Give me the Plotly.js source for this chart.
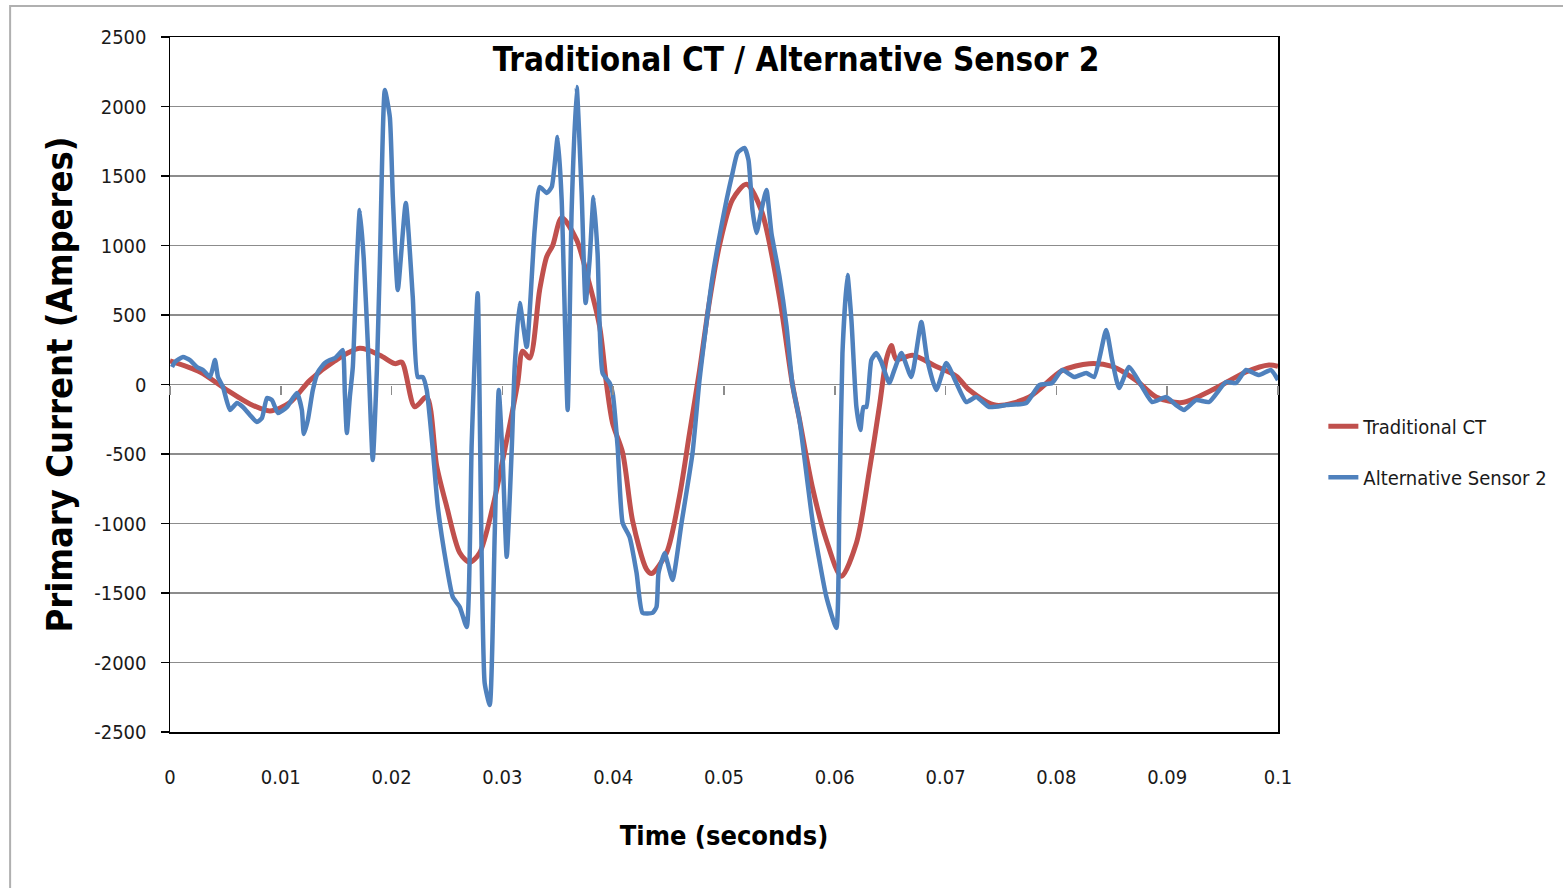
<!DOCTYPE html>
<html>
<head>
<meta charset="utf-8">
<script src="https://cdn.plot.ly/plotly-3.0.1.min.js"></script>
<style>
  html, body { margin: 0; padding: 0; background: #fff; }
  #chart { width: 1563px; height: 888px; }
</style>
</head>
<body>
<div id="chart"></div>
<script>
// Time (seconds) and primary current (Amperes)
const ctTime = [0, 0.00271, 0.00514, 0.00721, 0.00902, 0.01082, 0.01262, 0.01488, 0.01713, 0.01894,
  0.02029, 0.02092, 0.02209, 0.02317, 0.02408, 0.02498, 0.02615, 0.02705, 0.02795, 0.02913,
  0.03039, 0.03138, 0.03183, 0.03246, 0.03336, 0.03400, 0.03454, 0.03535, 0.03670, 0.03760,
  0.03877, 0.03940, 0.03995, 0.04085, 0.04175, 0.04301, 0.04346, 0.04482, 0.04599, 0.04689,
  0.04779, 0.04869, 0.04959, 0.05077, 0.05203, 0.05338, 0.05500, 0.05618, 0.05681, 0.05798,
  0.05924, 0.06059, 0.06195, 0.06312, 0.06402, 0.06465, 0.06510, 0.06556, 0.06700, 0.06916,
  0.07097, 0.07214, 0.07457, 0.07755, 0.08052, 0.08296, 0.08503, 0.08720, 0.08900, 0.09134,
  0.09405, 0.09711, 0.09919, 0.1];
const ctCurrent = [170, 90, -40, -140, -190, -130, 30, 170, 260, 210,
  150, 160, -160, -90, -590, -880, -1210, -1280, -1210, -880,
  -400, 10, 240, 190, 680, 920, 1000, 1200, 1040, 800,
  420, 0, -280, -490, -980, -1330, -1360, -1210, -800, -350,
  100, 600, 1000, 1330, 1440, 1250, 630, 0, -250, -740,
  -1120, -1380, -1140, -620, -160, 180, 280, 180, 210, 130,
  60, -40, -150, -90, 100, 150, 130, 30, -90, -130,
  -40, 90, 140, 130];

const altTime = [0.00018, 0.00045, 0.00117, 0.00180, 0.00243, 0.00298, 0.00361, 0.00406, 0.00433, 0.00478,
  0.00541, 0.00604, 0.00658, 0.00721, 0.00784, 0.00830, 0.00875, 0.00920, 0.00974, 0.01055,
  0.01145, 0.01190, 0.01208, 0.01244, 0.01289, 0.01335, 0.01398, 0.01443, 0.01488, 0.01533,
  0.01560, 0.01578, 0.01596, 0.01623, 0.01650, 0.01686, 0.01713, 0.01749, 0.01785, 0.01830,
  0.01867, 0.01894, 0.01939, 0.01984, 0.02011, 0.02056, 0.02128, 0.02191, 0.02236, 0.02281,
  0.02317, 0.02372, 0.02417, 0.02498, 0.02552, 0.02615, 0.02678, 0.02723, 0.02777, 0.02840,
  0.02886, 0.02931, 0.02967, 0.03003, 0.03039, 0.03084, 0.03111, 0.03156, 0.03219, 0.03291,
  0.03336, 0.03400, 0.03445, 0.03499, 0.03535, 0.03589, 0.03625, 0.03670, 0.03715, 0.03751,
  0.03787, 0.03823, 0.03859, 0.03904, 0.03968, 0.03995, 0.04040, 0.04085, 0.04148, 0.04211,
  0.04265, 0.04355, 0.04391, 0.04409, 0.04464, 0.04491, 0.04536, 0.04617, 0.04716, 0.04779,
  0.04896, 0.05023, 0.05077, 0.05122, 0.05185, 0.05221, 0.05257, 0.05293, 0.05338, 0.05383,
  0.05428, 0.05500, 0.05564, 0.05618, 0.05681, 0.05798, 0.05924, 0.06014, 0.06041, 0.06069,
  0.06114, 0.06150, 0.06195, 0.06231, 0.06258, 0.06285, 0.06330, 0.06375, 0.06420, 0.06492,
  0.06537, 0.06601, 0.06691, 0.06781, 0.06835, 0.06916, 0.07006, 0.07097, 0.07187, 0.07277,
  0.07394, 0.07547, 0.07728, 0.07845, 0.07962, 0.08052, 0.08161, 0.08269, 0.08341, 0.08449,
  0.08503, 0.08566, 0.08656, 0.08774, 0.08864, 0.08990, 0.09080, 0.09152, 0.09261, 0.09378,
  0.09531, 0.09621, 0.09711, 0.09829, 0.09937, 0.1];
const altCurrent = [126, 162, 198, 176, 126, 104, 54, 176, 54, -18,
  -183, -133, -162, -219, -270, -241, -97, -112, -205, -162,
  -61, -183, -356, -255, -40, 90, 155, 176, 190, 226,
  248, -61, -349, -90, 126, 874, 1255, 900, 300, -543,
  100, 874, 2119, 1924, 1349, 680, 1306, 630, 54, 54,
  -40, -470, -880, -1312, -1528, -1600, -1744, -420, 656, -2148,
  -2306, -1068, -40, -543, -1240, -470, 126, 586, 270, 1111,
  1421, 1378, 1421, 1780, 1327, -183, 1255, 2140, 1378, 586,
  895, 1349, 946, 83, 11, -61, -449, -996, -1097, -1356,
  -1643, -1643, -1600, -1356, -1212, -1284, -1406, -996, -493, 32,
  773, 1327, 1522, 1666, 1702, 1615, 1255, 1090, 1255, 1400,
  1090, 780, 420, 0, -255, -975, -1528, -1751, -900, 226,
  788, 464, -162, -327, -162, -162, 176, 226, 162, 11,
  104, 226, 54, 450, 176, -40, 155, 11, -126, -90,
  -162, -148, -133, -4, 11, 104, 54, 83, 54, 392,
  176, -25, 126, -18, -126, -90, -148, -183, -112, -126,
  18, 11, 104, 68, 104, 32];

const seriesNames = ['Traditional CT', 'Alternative Sensor 2'];
const chartTitle = 'Traditional CT / Alternative Sensor 2';
const xTitle = 'Time (seconds)';
const yTitle = 'Primary Current (Amperes)';
const yTickVals = [-2500, -2000, -1500, -1000, -500, 0, 500, 1000, 1500, 2000, 2500];
const yTickText = ['-2500', '-2000', '-1500', '-1000', '-500', '0', '500', '1000', '1500', '2000', '2500'];
const xTickVals = [0, 0.01, 0.02, 0.03, 0.04, 0.05, 0.06, 0.07, 0.08, 0.09, 0.1];
const xTickText = ['0', '0.01', '0.02', '0.03', '0.04', '0.05', '0.06', '0.07', '0.08', '0.09', '0.1'];

const FONT = '"DejaVu Sans Condensed", "Liberation Sans Narrow", Roboto, sans-serif';

const traces = [
  {
    x: ctTime, y: ctCurrent, name: seriesNames[0], type: 'scatter', mode: 'lines',
    line: {color: '#C0504D', width: 5, shape: 'spline', smoothing: 0.8},
    legendgroup: 'a'
  },
  {
    x: altTime, y: altCurrent, name: seriesNames[1], type: 'scatter', mode: 'lines',
    line: {color: '#4F81BD', width: 4.5, shape: 'spline', smoothing: 0.5},
    legendgroup: 'b'
  },
  {
    x: [0], y: [null], xaxis: 'x2', yaxis: 'y', mode: 'lines', showlegend: false, hoverinfo: 'skip'
  }
];

const layout = {
  width: 1563, height: 888,
  margin: {l: 170, r: 284, t: 37, b: 156},
  paper_bgcolor: '#ffffff', plot_bgcolor: '#ffffff',
  font: {family: FONT, color: '#1a1a1a'},
  title: {
    text: chartTitle,
    font: {family: FONT, size: 33, color: '#000', weight: 'bold'},
    xref: 'paper', yref: 'paper', x: 0.565, y: 0.967, xanchor: 'center', yanchor: 'middle'
  },
  showlegend: true,
  legend: {
    x: 1.04, y: 0.468, xanchor: 'left', yanchor: 'top',
    font: {family: FONT, size: 20, color: '#1a1a1a'},
    bgcolor: 'rgba(0,0,0,0)', traceorder: 'grouped', tracegroupgap: 22
  },
  xaxis: {
    range: [0, 0.1], tickmode: 'array', tickvals: xTickVals, ticktext: xTickText,
    showgrid: false, zeroline: false,
    showline: true, linecolor: '#000', linewidth: 1.5, mirror: true,
    ticks: '', ticklabelstandoff: 26,
    tickfont: {family: FONT, size: 20, color: '#1a1a1a'},
    title: {text: xTitle, font: {family: FONT, size: 27, color: '#000', weight: 'bold'}, standoff: 38}
  },
  xaxis2: {
    overlaying: 'x', anchor: 'free', position: 0.5, side: 'bottom',
    range: [0, 0.1], tickmode: 'array', tickvals: xTickVals, showgrid: false, zeroline: false,
    showline: false, showticklabels: false, ticks: 'outside', ticklen: 9,
    tickcolor: '#8c8c8c', tickwidth: 1.5
  },
  yaxis: {
    range: [-2500, 2500], tickmode: 'array', tickvals: yTickVals, ticktext: yTickText,
    showgrid: true, gridcolor: '#8c8c8c', gridwidth: 1.5,
    zeroline: false, showline: true, linecolor: '#000', linewidth: 1.5, mirror: true,
    ticks: 'outside', ticklen: 8, tickcolor: '#000', tickwidth: 1.5, ticklabelstandoff: 10,
    tickfont: {family: FONT, size: 20, color: '#1a1a1a'},
    title: {text: yTitle, font: {family: FONT, size: 36, color: '#000', weight: 'bold'}, standoff: 10}
  },
  shapes: [
    {type: 'rect', xref: 'paper', yref: 'paper', x0: -0.1443, x1: 1.4, y0: -0.4, y1: 1.0446,
     line: {color: '#b0b0b0', width: 2}, fillcolor: 'rgba(0,0,0,0)', layer: 'below'}
  ]
};

Plotly.newPlot('chart', traces, layout, {displayModeBar: false, staticPlot: true});
</script>
</body>
</html>
